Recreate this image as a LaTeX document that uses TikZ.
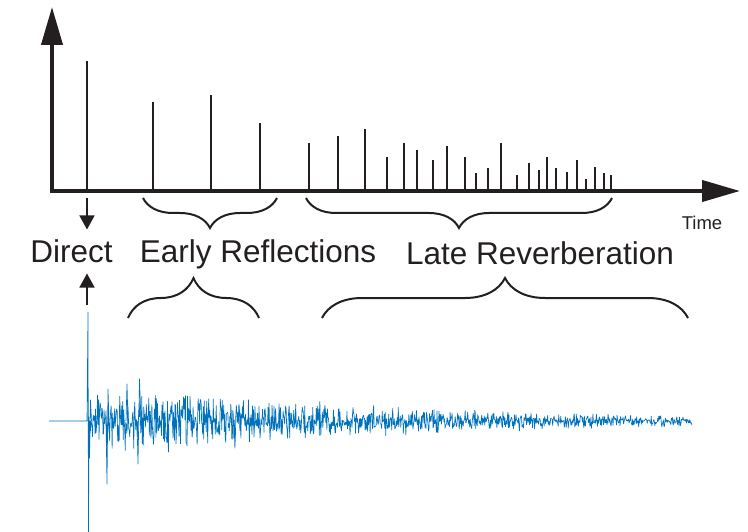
\documentclass[tikz,border=0pt]{standalone}
\usepackage{fontspec}
\setmainfont{Liberation Sans}
\usetikzlibrary{arrows.meta,decorations.pathreplacing}
\definecolor{inkblack}{RGB}{35,31,32}
\definecolor{signalblue}{RGB}{0,114,189}

\begin{document}
\begin{tikzpicture}[
        x=1pt, y=-1pt,
        axis/.style={
            line width=4pt, draw=inkblack, line join=miter,
            {Triangle[length=38pt,width=21pt]}-{Triangle[length=38pt,width=21pt]}
        },
        spike/.style={line width=1.8pt, draw=inkblack},
        pointer/.style={-{Triangle[length=14pt,width=15pt]}, line width=1.5pt, draw=inkblack},
        curly/.style={decorate, decoration={brace, amplitude=#1}, line width=2pt, draw=inkblack},
        region/.style={font=\fontsize{31.5}{36}\selectfont, text=inkblack, inner sep=0pt, anchor=base},
        signal/.style={draw=signalblue, line width=0.65pt, line join=round}
    ]
    \useasboundingbox (0,0) rectangle (748,532);

    % Axes
    \coordinate (origin) at (52,191);
    \coordinate (ytip) at (52,7);
    \coordinate (xtip) at (740,191);
    \draw[axis] (ytip) -- (origin) -- (xtip);
    \node[region, font=\fontsize{18.5}{22}\selectfont] (time) at (702,230) {Time};

    % Impulses
    \foreach \sx/\sy in {87/61, 153/102, 211/95, 260/123, 309/143, 338/136, 365/129,
        387/157, 404/143, 417/150, 433/160, 447/146, 465/157, 476/173, 488/168,
        501/143, 517/175, 529/163, 539/170, 547/157, 556/168, 567/172, 577/160,
        586/179, 595/167, 604/173, 611/175}
        \draw[spike] (\sx,191) -- (\sx,\sy);

    % Labels
    \node[region] (direct) at (71.5,262) {Direct};
    \node[region] (early) at (258,262) {Early Reflections};
    \node[region] (late) at (540,265) {Late Reverberation};

    % Braces
    \coordinate (earlyA) at (143,198);
    \coordinate (earlyB) at (277,198);
    \coordinate (lateA) at (306,198);
    \coordinate (lateB) at (612,198);
    \coordinate (earlyC) at (128,318);
    \coordinate (earlyD) at (259,318);
    \coordinate (lateC) at (322,318);
    \coordinate (lateD) at (688,318);
    \draw[curly=30pt, decoration={mirror}] (earlyA) -- (earlyB);
    \draw[curly=30pt, decoration={mirror}] (lateA) -- (lateB);
    \draw[curly=40pt] (earlyC) -- (earlyD);
    \draw[curly=40pt] (lateC) -- (lateD);

    % Pointers to Direct
    \coordinate (dtop) at (87,198);
    \coordinate (dlow) at (87,305);
    \draw[pointer, shorten >=9.5pt] (dtop) -- (dtop |- direct.north);
    \draw[pointer, shorten >=11pt] (dlow) -- (dlow |- direct.south);

    % Measured response
    \pgfmathsetseed{7}
    \draw[signal] (49,421) -- (87,421) -- (88,312) -- (88.5,532) -- (89,421)
        -- plot[samples=1200, domain=89:692]
        (\x, {421 + 27*min(1,exp(-(\x-200)/280))*0.6*(rand+rand)});
    \draw[signal] (89,421) -- (89.5,458) -- (90.5,400) -- (91.5,421);
    \draw[signal] (106,421) -- (107,484) -- (108,389) -- (109,421);
    \draw[signal] (126,421) -- (127,384) -- (128,421);
    \draw[signal] (137,421) -- (138,464) -- (139.5,379) -- (141,421);

\end{tikzpicture}
\end{document}
